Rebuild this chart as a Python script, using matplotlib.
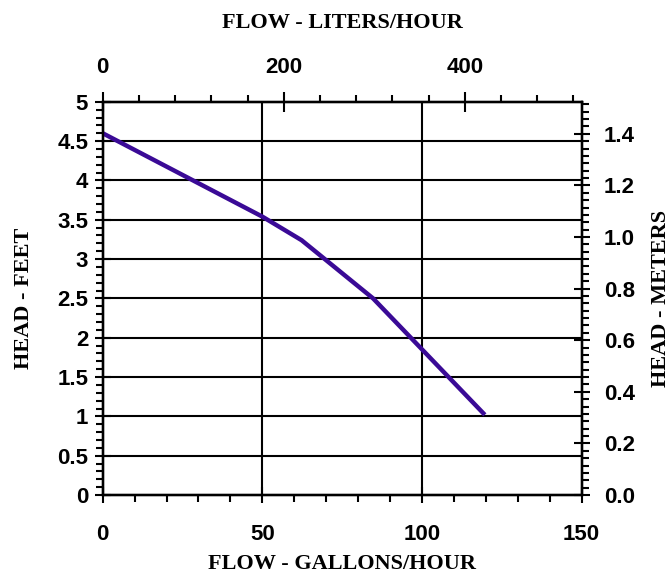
import matplotlib
matplotlib.use("Agg")
import matplotlib.pyplot as plt
from matplotlib.ticker import MultipleLocator, FixedLocator, FormatStrFormatter

# Data
flow_gph = [0, 25, 50, 62.3, 84.7, 119.7]
head_ft = [4.60, 4.07, 3.54, 3.24, 2.50, 1.02]

x_ticks = [0, 50, 100, 150]
y_ticks = [0, 0.5, 1, 1.5, 2, 2.5, 3, 3.5, 4, 4.5, 5]
y_ticklabels = ["0", "0.5", "1", "1.5", "2", "2.5", "3", "3.5", "4", "4.5", "5"]
top_ticks = [0, 200, 400]
right_ticks = [0.0, 0.2, 0.4, 0.6, 0.8, 1.0, 1.2, 1.4]

sans = "Liberation Sans"
serif = "Liberation Serif"
tick_fs = 16
title_fs = 16

fig = plt.figure(figsize=(6.7, 5.75), dpi=100)
ax = fig.add_axes([0.1533, 0.139, 0.868 - 0.1533, 0.823 - 0.139])

ax.set_xlim(0, 150)
ax.set_ylim(0, 5)

# grid
for yv in y_ticks[1:-1]:
    ax.axhline(yv, color="black", lw=1.5, zorder=1)
for xv in [50, 100]:
    ax.axvline(xv, color="black", lw=1.5, zorder=1)

ax.plot(flow_gph, head_ft, color="#3a0a96", lw=3.2, solid_capstyle="butt", zorder=3)

for s in ax.spines.values():
    s.set_linewidth(1.6)

ax.xaxis.set_major_locator(FixedLocator(x_ticks))
ax.xaxis.set_minor_locator(MultipleLocator(10))
ax.yaxis.set_major_locator(FixedLocator(y_ticks))
ax.set_yticklabels(y_ticklabels)
ax.yaxis.set_minor_locator(MultipleLocator(0.1))
ax.tick_params(axis="both", which="major", direction="inout", length=11, width=1.5,
               labelsize=tick_fs)
ax.tick_params(axis="x", which="major", pad=15)
ax.tick_params(axis="y", which="major", pad=5)
ax.tick_params(axis="both", which="minor", direction="out", length=5, width=1.5)
for lab in ax.get_xticklabels() + ax.get_yticklabels():
    lab.set_fontfamily(sans)
    lab.set_fontweight("bold")

ax.set_xlabel("FLOW - GALLONS/HOUR", fontfamily=serif, fontweight="bold",
              fontsize=title_fs, labelpad=7)
ax.set_ylabel("HEAD - FEET", fontfamily=serif, fontweight="bold",
              fontsize=title_fs, labelpad=17)

# top axis: liters/hour
axt = ax.twiny()
axt.set_xlim(0, 529)
axt.xaxis.set_major_locator(FixedLocator(top_ticks))
axt.xaxis.set_minor_locator(MultipleLocator(40))
axt.tick_params(axis="x", which="major", direction="inout", length=14, width=1.5,
                labelsize=tick_fs, pad=10)
axt.tick_params(axis="x", which="minor", direction="out", length=5, width=1.5)
for lab in axt.get_xticklabels():
    lab.set_fontfamily(sans)
    lab.set_fontweight("bold")
axt.set_xlabel("FLOW - LITERS/HOUR", fontfamily=serif, fontweight="bold",
               fontsize=title_fs, labelpad=21)

# right axis: meters
axr = ax.twinx()
axr.set_ylim(0, 1.524)
axr.yaxis.set_major_locator(FixedLocator(right_ticks))
axr.yaxis.set_major_formatter(FormatStrFormatter("%.1f"))
axr.yaxis.set_minor_locator(MultipleLocator(0.2 / 7))
axr.tick_params(axis="y", which="major", direction="inout", length=12, width=1.5,
                labelsize=tick_fs, pad=10)
axr.tick_params(axis="y", which="minor", direction="out", length=5, width=1.5)
for lab in axr.get_yticklabels():
    lab.set_fontfamily(sans)
    lab.set_fontweight("bold")
axr.set_ylabel("HEAD - METERS", fontfamily=serif, fontweight="bold",
               fontsize=title_fs, labelpad=12)
for a in (axt, axr):
    for s in a.spines.values():
        s.set_linewidth(1.6)

fig.savefig("out.png", dpi=100)
